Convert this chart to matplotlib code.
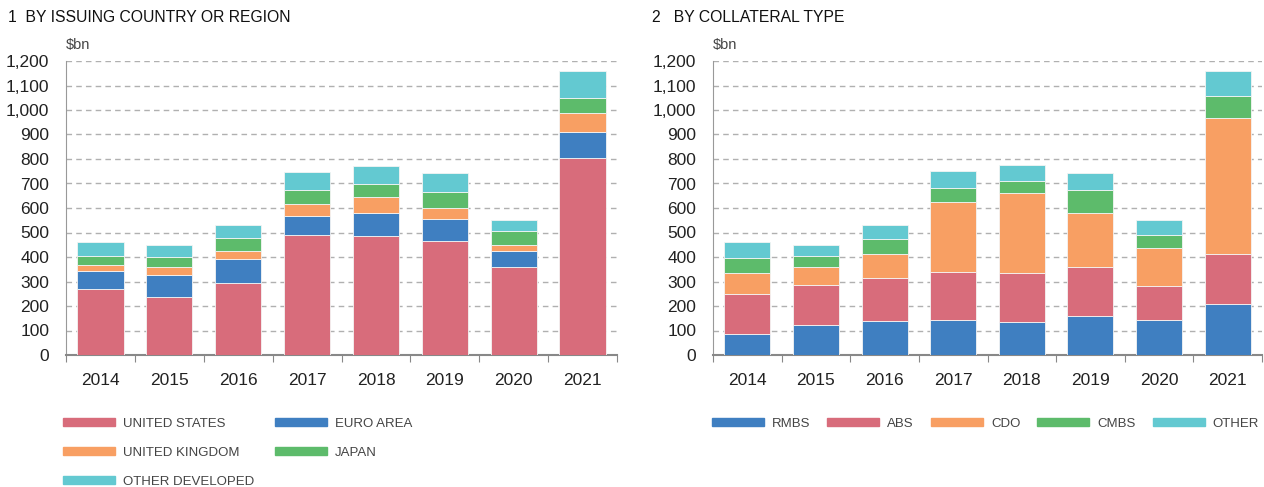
import numpy as np
import matplotlib.pyplot as plt
from matplotlib.patches import Patch
from matplotlib.ticker import FuncFormatter, MultipleLocator, FixedLocator

plt.rcParams['font.family'] = ['Liberation Sans', 'DejaVu Sans']

years = ['2014', '2015', '2016', '2017', '2018', '2019', '2020', '2021']

# panel 1: cumulative tops, converted to segment sizes below
region_names = ['UNITED STATES', 'EURO AREA', 'UNITED KINGDOM', 'JAPAN', 'OTHER DEVELOPED']
us_top    = [269, 236, 293, 490, 484, 465, 361, 804]
euro_top  = [344, 327, 393, 569, 581, 554, 423, 910]
uk_top    = [368, 359, 424, 618, 645, 601, 449, 989]
japan_top = [406, 398, 479, 675, 697, 667, 505, 1049]
other_top = [461, 449, 530, 748, 773, 741, 551, 1159]

# panel 2
coll_names = ['RMBS', 'ABS', 'CDO', 'CMBS', 'OTHER']
rmbs_top  = [86, 122, 137, 143, 133, 158, 143, 209]
abs_top   = [249, 286, 314, 339, 336, 358, 281, 411]
cdo_top   = [336, 358, 412, 625, 661, 581, 435, 968]
cmbs_top  = [397, 405, 475, 682, 712, 673, 489, 1059]
oth_top   = [461, 450, 531, 751, 774, 741, 552, 1160]

RED = '#d86c7b'
BLUE = '#3f7fc1'
ORANGE = '#f89f63'
GREEN = '#5dbb6b'
CYAN = '#63c9d1'

W, H = 1264, 487
fig = plt.figure(figsize=(W / 100, H / 100), dpi=100)


def panel(ax, tops, colors):
    x = np.arange(len(years))
    prev = np.zeros(len(years))
    for t, c in zip(tops, colors):
        t = np.array(t, dtype=float)
        ax.bar(x, t - prev, bottom=prev, width=0.67, color=c,
               edgecolor='#f4f4f4', linewidth=0.6, zorder=3)
        prev = t
    ax.set_xlim(-0.5, len(years) - 0.5)
    ax.set_ylim(0, 1200)
    ax.yaxis.set_major_locator(MultipleLocator(100))
    ax.yaxis.set_major_formatter(FuncFormatter(lambda v, p: f'{int(v):,}'))
    ax.set_xticks(x)
    ax.set_xticklabels(years)
    ax.xaxis.set_minor_locator(FixedLocator(np.arange(-0.5, len(years), 1.0)))
    ax.tick_params(axis='x', which='major', length=0, pad=13, labelsize=12.5, labelcolor='#222')
    ax.tick_params(axis='x', which='minor', length=5, color='#888', width=0.8)
    ax.tick_params(axis='y', length=0, pad=12, labelsize=12.5, labelcolor='#222')
    ax.grid(axis='y', color='#b0b0b0', linestyle=(0, (4, 3)), linewidth=1.0, zorder=0)
    for s in ['top', 'right']:
        ax.spines[s].set_visible(False)
    ax.spines['left'].set_color('#999')
    ax.spines['left'].set_linewidth(0.8)
    ax.spines['bottom'].set_color('#888')
    ax.spines['bottom'].set_linewidth(1.5)
    ax.text(0, 1.03, '$bn', transform=ax.transAxes, fontsize=10.5, color='#444',
            ha='left', va='bottom')


ax1 = fig.add_axes([66 / W, 1 - 355 / H, 551 / W, 294 / H])
panel(ax1, [us_top, euro_top, uk_top, japan_top, other_top],
      [RED, BLUE, ORANGE, GREEN, CYAN])

ax2 = fig.add_axes([713 / W, 1 - 355 / H, 549 / W, 294 / H])
panel(ax2, [rmbs_top, abs_top, cdo_top, cmbs_top, oth_top],
      [BLUE, RED, ORANGE, GREEN, CYAN])

fig.text(8 / W, 1 - 18 / H, '1  BY ISSUING COUNTRY OR REGION', fontsize=11.3,
         color='#111', ha='left', va='center')
fig.text(652 / W, 1 - 18 / H, '2   BY COLLATERAL TYPE', fontsize=11.3,
         color='#111', ha='left', va='center')

# legends
fs = 9.5
px = fs * 1.389  # pixels per font unit at dpi 100
reg_colors = [RED, BLUE, ORANGE, GREEN, CYAN]
h1 = [Patch(color=c, label=n) for n, c in zip(region_names, reg_colors)]
order = [0, 2, 4, 1, 3]
fig.legend([h1[i] for i in order], [region_names[i] for i in order],
           loc='upper left', bbox_to_anchor=(51 / W, 1 - 406 / H), ncol=2,
           frameon=False, fontsize=fs, handlelength=52 / px,
           handleheight=0.6, handletextpad=8 / px,
           columnspacing=21 / px, labelspacing=17 / px, labelcolor='#444')

coll_colors = [BLUE, RED, ORANGE, GREEN, CYAN]
h2 = [Patch(color=c, label=n) for n, c in zip(coll_names, coll_colors)]
fig.legend(h2, coll_names, loc='upper left', bbox_to_anchor=(700 / W, 1 - 406 / H),
           ncol=5, frameon=False, fontsize=fs, handlelength=52 / px,
           handleheight=0.6, handletextpad=8 / px,
           columnspacing=17 / px, labelcolor='#444')

fig.savefig('out.png', dpi=100)
